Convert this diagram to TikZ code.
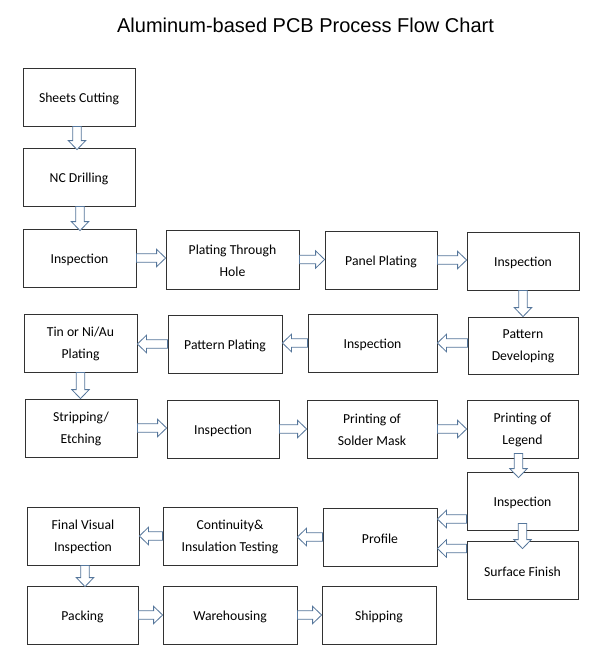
\documentclass[tikz,border=0pt]{standalone}
\usepackage{fontspec}
\setmainfont{Carlito}
\newfontfamily\titlefont{Liberation Sans}
\usetikzlibrary{calc}
\definecolor{arrowc}{RGB}{85,118,155}
\definecolor{boxc}{RGB}{50,50,50}
\tikzset{
  boxtext/.style={font=\fontsize{13.7}{22}\selectfont, align=center, inner sep=0pt, yshift=-2pt},
  boxtexttwo/.style={font=\fontsize{13.7}{22}\selectfont, align=center, inner sep=0pt, yshift=-1pt},
  box/.style={draw=boxc, line width=0.8pt, fill=white, inner sep=0pt,
    label={[boxtext]center:#1}},
  boxtwo/.style={draw=boxc, line width=0.8pt, fill=white, inner sep=0pt,
    label={[boxtexttwo]center:#1}},
  barrowstyle/.style={draw=arrowc, fill=white, line width=0.8pt, line join=miter},
}
\newcommand\barrow[2]{%
  \draw[barrowstyle] let \p1=(#1), \p2=(#2),
    \n1={atan2((\y2)-(\y1),(\x2)-(\x1))},
    \n2={veclen((\x2)-(\x1),(\y2)-(\y1))-9} in
    ($(\p1)+(\n1+90:4.2pt)$) --
    ($(\p1)+(\n1:\n2*1pt)+(\n1+90:4.2pt)$) --
    ($(\p1)+(\n1:\n2*1pt)+(\n1+90:8.7pt)$) --
    (\p2) --
    ($(\p1)+(\n1:\n2*1pt)+(\n1-90:8.7pt)$) --
    ($(\p1)+(\n1:\n2*1pt)+(\n1-90:4.2pt)$) --
    ($(\p1)+(\n1-90:4.2pt)$) -- cycle;}
\begin{document}
\begin{tikzpicture}[x=1pt,y=-1pt]
\useasboundingbox[fill=white] (0,0) rectangle (607,667);
\node[font=\titlefont\fontsize{20}{24}\selectfont, anchor=base] (title) at (305.5,32.5) {Aluminum-based PCB Process Flow Chart};

\node[box={Sheets Cutting}, minimum width=112, minimum height=58] (sc) at (79,97) {};
\node[box={NC Drilling}, minimum width=112, minimum height=58] (nc) at (79,177) {};
\node[box={Inspection}, minimum width=113, minimum height=58] (ins1) at (79.5,258) {};
\node[boxtwo={Plating Through\\Hole}, minimum width=133, minimum height=59] (pth) at (232.5,259.5) {};
\node[box={Panel Plating}, minimum width=112, minimum height=58] (pp) at (381,260) {};
\node[box={Inspection}, minimum width=112, minimum height=58] (ins2) at (523,261) {};
\node[boxtwo={Pattern\\Developing}, minimum width=110, minimum height=57] (pd) at (523,345.5) {};
\node[box={Inspection}, minimum width=129, minimum height=58] (ins3) at (372.5,343) {};
\node[box={Pattern Plating}, minimum width=114, minimum height=58] (patp) at (225,344) {};
\node[boxtwo={Tin or Ni/Au\\Plating}, minimum width=113, minimum height=58] (tin) at (80.5,343) {};
\node[boxtwo={Stripping/\\Etching}, minimum width=112, minimum height=58] (strip) at (81,428) {};
\node[box={Inspection}, minimum width=112, minimum height=58] (ins4) at (223,429) {};
\node[boxtwo={Printing of\\Solder Mask}, minimum width=130, minimum height=58] (psm) at (372,429) {};
\node[boxtwo={Printing of\\Legend}, minimum width=111, minimum height=58] (leg) at (522.5,429) {};
\node[box={Inspection}, minimum width=111, minimum height=58] (ins5) at (522.5,501) {};
\node[box={Surface Finish}, minimum width=111, minimum height=58] (sf) at (522.5,570) {};
\node[box={Profile}, minimum width=114, minimum height=58] (prof) at (380,537) {};
\node[boxtwo={Continuity\&\\Insulation Testing}, minimum width=134, minimum height=58] (cont) at (230,536) {};
\node[boxtwo={Final Visual\\Inspection}, minimum width=112, minimum height=58] (fvi) at (83,536) {};
\node[box={Packing}, minimum width=111, minimum height=58] (pack) at (82.5,615) {};
\node[box={Warehousing}, minimum width=134, minimum height=58] (ware) at (230,615) {};
\node[box={Shipping}, minimum width=114, minimum height=58] (ship) at (379,615) {};

\barrow{$(sc.south)+(-2,0)$}{$(nc.north)+(-2,2)$}
\barrow{$(nc.south)+(1,0)$}{$(ins1.north)+(0.5,2)$}
\barrow{ins1.east}{ins1.east -| pth.west}
\barrow{pth.east}{pth.east -| pp.west}
\barrow{pp.east}{pp.east -| ins2.west}
\barrow{ins2.south}{pd.north}
\barrow{ins3.east -| pd.west}{ins3.east}
\barrow{ins3.west}{ins3.west -| patp.east}
\barrow{patp.west}{patp.west -| tin.east}
\barrow{tin.south}{tin.south |- strip.north}
\barrow{strip.east}{strip.east -| ins4.west}
\barrow{ins4.east}{ins4.east -| psm.west}
\barrow{psm.east}{psm.east -| leg.west}
\barrow{$(leg.south)+(-4,-5)$}{$(ins5.north)+(-4,6)$}
\barrow{$(ins5.south)+(0,-7)$}{$(sf.north)+(0,8)$}
\barrow{$(ins5.west)+(0,18)$}{$(prof.east)+(0,-18)$}
\barrow{$(sf.west)+(0,-21.5)$}{$(prof.east)+(0,11.5)$}
\barrow{prof.west}{prof.west -| cont.east}
\barrow{cont.west}{cont.west -| fvi.east}
\barrow{$(fvi.south)+(2,0)$}{$(pack.north)+(2.5,1)$}
\barrow{pack.east}{pack.east -| ware.west}
\barrow{ware.east}{ware.east -| ship.west}
\end{tikzpicture}
\end{document}
